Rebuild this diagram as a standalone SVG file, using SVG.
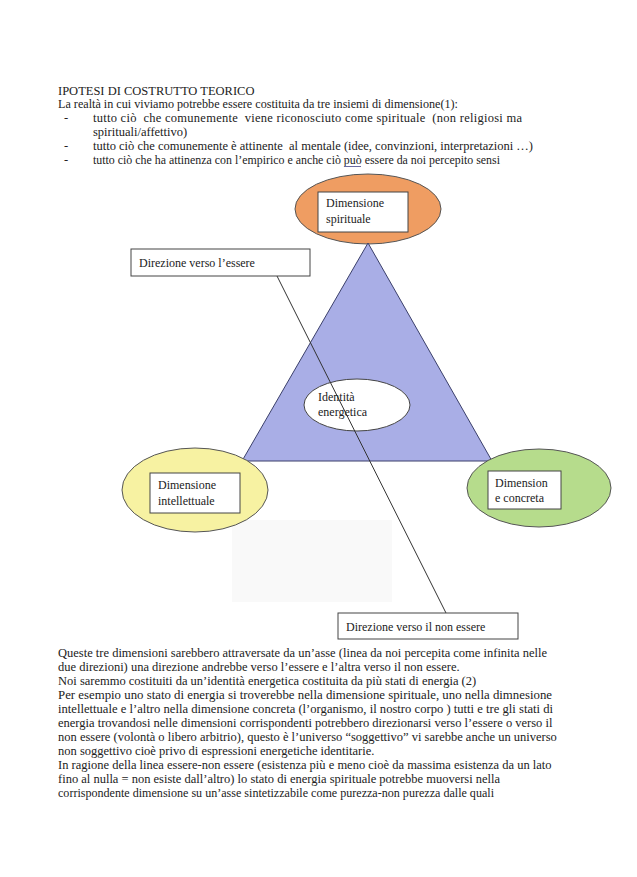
<svg xmlns="http://www.w3.org/2000/svg" width="637" height="877" viewBox="0 0 637 877">
<style>
.t{font-family:"Liberation Serif","Times New Roman",serif;font-size:12.5px;fill:#222}
.s{font-family:"Liberation Serif","Times New Roman",serif;font-size:12px;fill:#222}
.box{fill:#ffffff;stroke:#444;stroke-width:1}
.edge{stroke:#333;stroke-width:1;fill:none}
</style>
<rect width="637" height="877" fill="#ffffff"/>
<rect x="232" y="520" width="160" height="82" fill="#f9f9f9"/>
<g id="header">
<text class="t" x="58" y="95">IPOTESI DI COSTRUTTO TEORICO</text>
<text class="t" x="58" y="108" textLength="400" lengthAdjust="spacingAndGlyphs">La realtà in cui viviamo potrebbe essere costituita da tre insiemi di dimensione(1):</text>
<text class="t" x="64" y="122">-</text>
<text class="t" x="93" y="122" xml:space="preserve" textLength="429" lengthAdjust="spacing">tutto ciò  che comunemente  viene riconosciuto come spirituale  (non religiosi ma</text>
<text class="t" x="93" y="136">spirituali/affettivo)</text>
<text class="t" x="64" y="150">-</text>
<text class="t" x="93" y="150" xml:space="preserve" textLength="440" lengthAdjust="spacingAndGlyphs">tutto ciò che comunemente è attinente  al mentale (idee, convinzioni, interpretazioni …)</text>
<text class="t" x="64" y="164">-</text>
<text class="t" x="93" y="164" textLength="407" lengthAdjust="spacingAndGlyphs">tutto ciò che ha attinenza con l’empirico e anche ciò può essere da noi percepito sensi</text>
<line x1="344" y1="166.5" x2="361" y2="166.5" stroke="#6a6aa0" stroke-width="1"/>
</g>
<g id="spirituale">
<ellipse cx="368" cy="209" rx="73" ry="35" fill="#ef9d62" stroke="#555"/>
<rect class="box" x="318" y="192" width="90" height="40"/>
<text class="s" x="326" y="207">Dimensione</text>
<text class="s" x="326" y="223">spirituale</text>
</g>
<g id="triangolo">
<polygon points="368,243 242,461 492,461" fill="#a9aee6" stroke="#3a3f6a" stroke-width="1"/>
</g>
<g id="identita">
<ellipse cx="357" cy="405" rx="53" ry="26" fill="#ffffff" stroke="#444"/>
<text class="s" x="318" y="401">Identità</text>
<text class="s" x="318" y="416">energetica</text>
</g>
<g id="intellettuale">
<ellipse cx="195" cy="490" rx="73" ry="42" fill="#f7f2a2" stroke="#555"/>
<rect class="box" x="150" y="473" width="90" height="40"/>
<text class="s" x="158" y="489">Dimensione</text>
<text class="s" x="158" y="505">intellettuale</text>
</g>
<g id="concreta">
<ellipse cx="539" cy="488" rx="72" ry="39" fill="#b6dc8c" stroke="#555"/>
<rect class="box" x="488" y="471" width="73" height="38"/>
<text class="s" x="495" y="487">Dimension</text>
<text class="s" x="495" y="502">e concreta</text>
</g>
<g id="connettori">
<line class="edge" x1="277" y1="276" x2="446" y2="613"/>
</g>
<g id="essere">
<rect class="box" x="131" y="249" width="179" height="27"/>
<text class="s" x="139" y="267">Direzione verso l’essere</text>
</g>
<g id="nonessere">
<rect class="box" x="338" y="613" width="180" height="26"/>
<text class="s" x="346" y="631">Direzione verso il non essere</text>
</g>
<g id="testo">
<text class="t" x="58" y="657">Queste tre dimensioni sarebbero attraversate da un’asse (linea da noi percepita come infinita nelle</text>
<text class="t" x="58" y="671">due direzioni) una direzione andrebbe verso l’essere e l’altra verso il non essere.</text>
<text class="t" x="58" y="685">Noi saremmo costituiti da un’identità energetica costituita da più stati di energia (2)</text>
<text class="t" x="58" y="699" textLength="494" lengthAdjust="spacingAndGlyphs">Per esempio uno stato di energia si troverebbe nella dimensione spirituale, uno nella dimnesione</text>
<text class="t" x="58" y="713" textLength="495" lengthAdjust="spacingAndGlyphs">intellettuale e l’altro nella dimensione concreta (l’organismo, il nostro corpo ) tutti e tre gli stati di</text>
<text class="t" x="58" y="727">energia trovandosi nelle dimensioni corrispondenti potrebbero direzionarsi verso l’essere o verso il</text>
<text class="t" x="58" y="741">non essere (volontà o libero arbitrio), questo è l’universo “soggettivo” vi sarebbe anche un universo</text>
<text class="t" x="58" y="755">non soggettivo cioè privo di espressioni energetiche identitarie.</text>
<text class="t" x="58" y="769">In ragione della linea essere-non essere (esistenza più e meno cioè da massima esistenza da un lato</text>
<text class="t" x="58" y="783">fino al nulla = non esiste dall’altro) lo stato di energia spirituale potrebbe muoversi nella</text>
<text class="t" x="58" y="797" textLength="436" lengthAdjust="spacingAndGlyphs">corrispondente dimensione su un’asse sintetizzabile come purezza-non purezza dalle quali</text>
</g>
</svg>
